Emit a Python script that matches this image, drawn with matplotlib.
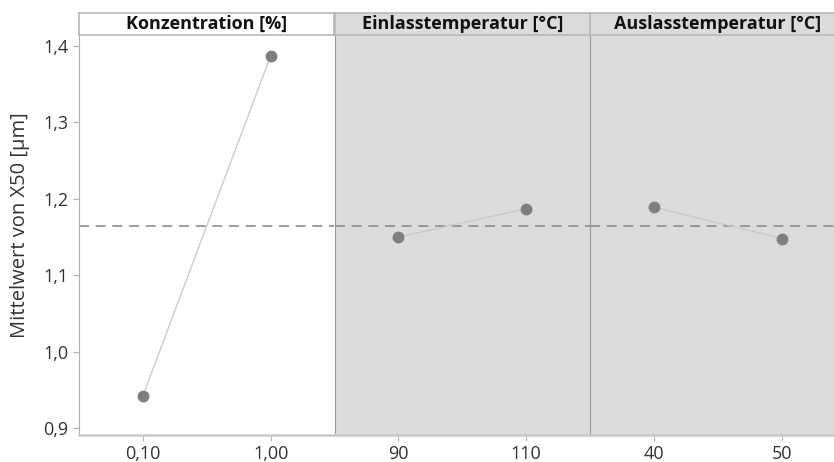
import matplotlib.pyplot as plt
import numpy as np

plt.rcParams['font.family'] = ['Open Sans', 'DejaVu Sans']

# Faktoren und Stufen
faktoren = ['Konzentration [%]', 'Einlasstemperatur [°C]', 'Auslasstemperatur [°C]']
stufen = [['0,10', '1,00'], ['90', '110'], ['40', '50']]
mittelwerte = [[0.942, 1.387], [1.150, 1.187], [1.189, 1.148]]
gesamtmittel = 1.1645
yticks = [0.9, 1.0, 1.1, 1.2, 1.3, 1.4]
ylim = (0.8908, 1.4144)

W, H = 834, 462
fig = plt.figure(figsize=(W / 100, H / 100), dpi=100)

left0, pw = 79, 255.5
top_plot, bot_plot = 35, 435
top_head = 13
bg = ['white', '#dcdcdc', '#dcdcdc']

for i in range(3):
    x0 = left0 + i * pw
    ax = fig.add_axes([x0 / W, (H - bot_plot) / H, pw / W, (bot_plot - top_plot) / H])
    ax.set_facecolor(bg[i])
    xs = np.arange(len(stufen[i]))
    ax.plot(xs, mittelwerte[i], color='#c8c8c8', lw=0.9, zorder=2)
    ax.plot(xs, mittelwerte[i], 'o', color='#7f7f7f', ms=7.5, zorder=3)
    ax.axhline(gesamtmittel, color='#8c8c8c', lw=1.2, ls=(0, (6, 4)), zorder=1)
    ax.set_xlim(-0.5, 1.5)
    ax.set_ylim(*ylim)
    ax.set_xticks(xs)
    ax.set_xticklabels(stufen[i])
    ax.tick_params(axis='x', length=4, color='#b0b0b0', labelsize=13, labelcolor='#333333', pad=3)
    for s in ['top', 'right']:
        ax.spines[s].set_visible(False)
    ax.spines['bottom'].set_color('#c8c8c8')
    ax.spines['bottom'].set_linewidth(1.8)
    if i == 0:
        ax.set_yticks(yticks)
        ax.set_yticklabels([f'{v:.1f}'.replace('.', ',') for v in yticks])
        ax.tick_params(axis='y', length=4, color='#b0b0b0', labelsize=13, labelcolor='#333333')
        ax.spines['left'].set_color('#b0b0b0')
        ax.set_ylabel('Mittelwert von X50 [µm]', fontsize=14.5, color='#333333')
        ax.yaxis.set_label_coords(-0.19, 0.525)
    else:
        ax.set_yticks([])
        ax.spines['left'].set_color('#999999')

    hx = fig.add_axes([x0 / W, (H - top_plot) / H, pw / W, (top_plot - top_head) / H])
    hx.set_facecolor(bg[i])
    hx.set_xticks([])
    hx.set_yticks([])
    for s in hx.spines.values():
        s.set_color('#b8b8b8')
        s.set_linewidth(1.2)
    hx.text(0.5, 0.5, faktoren[i], ha='center', va='center', fontsize=13,
            fontweight='bold', color='#111111', transform=hx.transAxes)

fig.savefig('out.png', dpi=100)
